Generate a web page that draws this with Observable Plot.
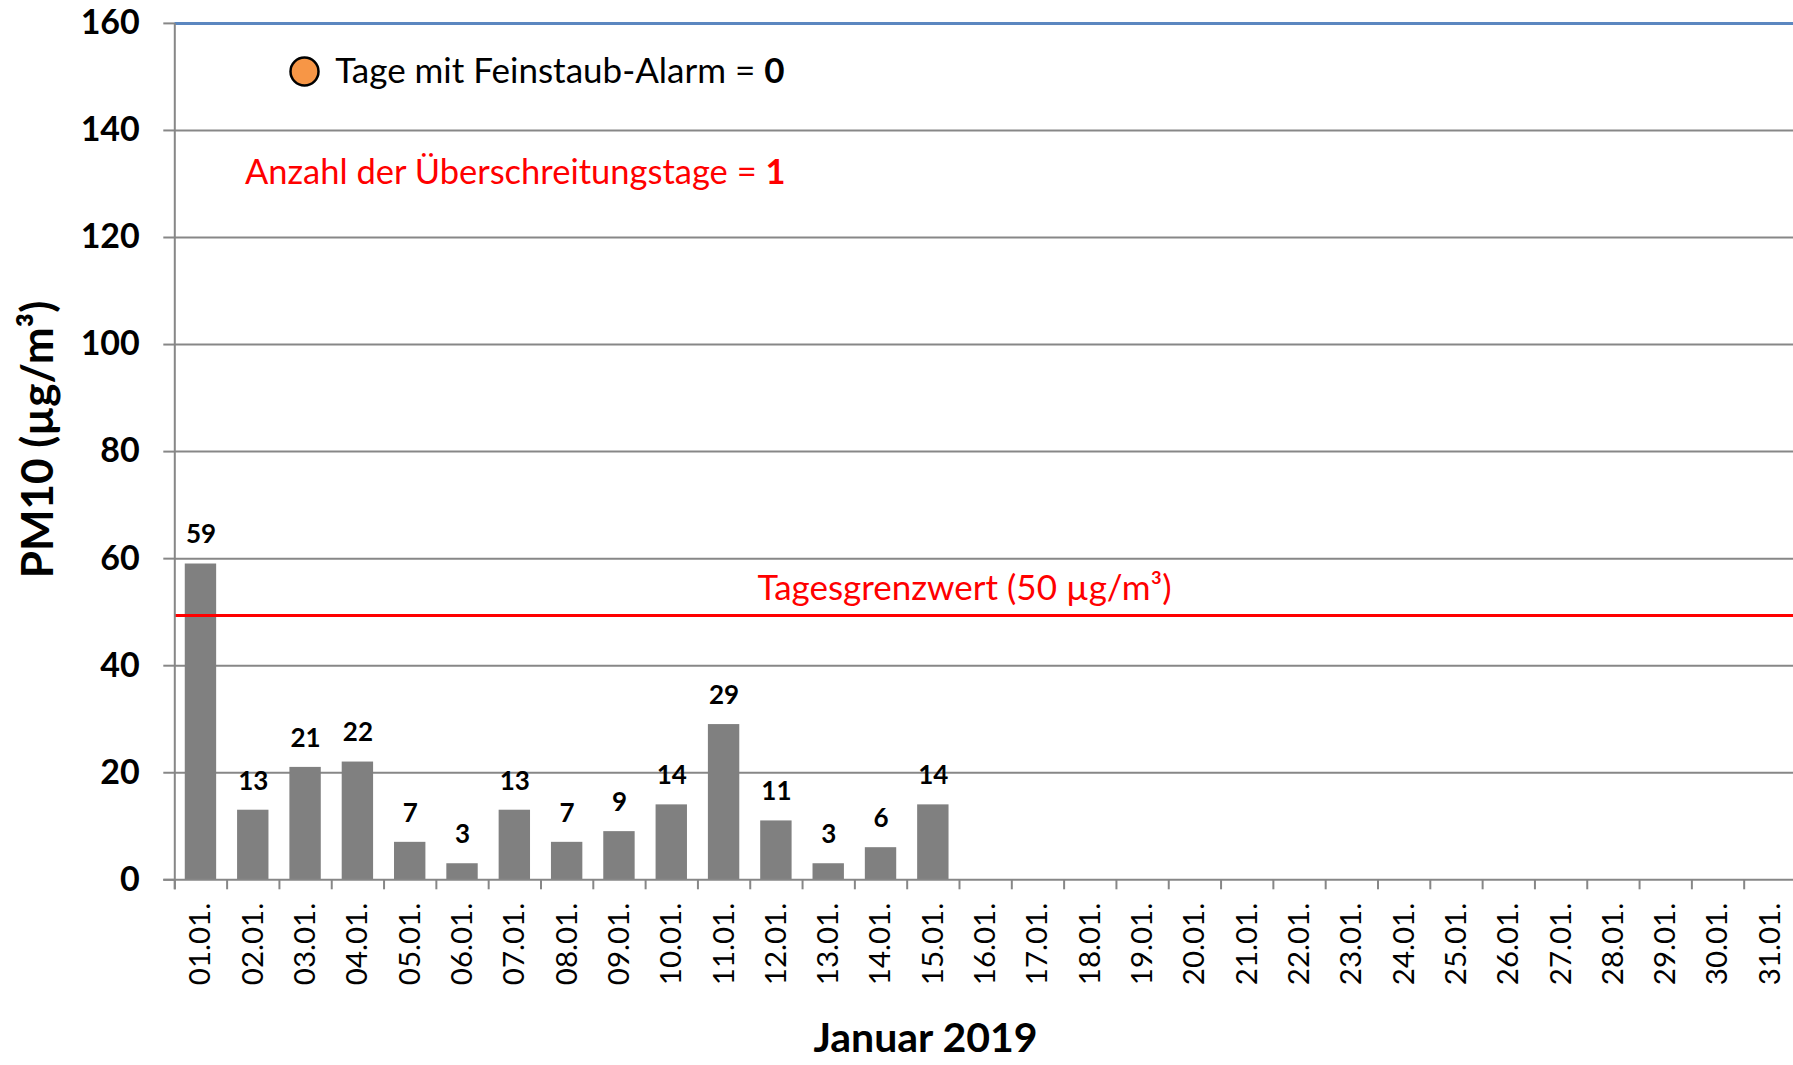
<!DOCTYPE html>
<html>
<head>
<meta charset="utf-8">
<script src="https://cdn.jsdelivr.net/npm/d3@7"></script>
<script src="https://cdn.jsdelivr.net/npm/@observablehq/plot@0.6"></script>
<style>
  html, body { margin: 0; padding: 0; background: #fff; overflow: hidden; }
  #chart { width: 1793px; height: 1065px; overflow: hidden; }
  #chart svg { max-width: none !important; }
</style>
</head>
<body>
<div id="chart"></div>
<script>
const days = ["01.01.","02.01.","03.01.","04.01.","05.01.","06.01.","07.01.","08.01.","09.01.","10.01.",
  "11.01.","12.01.","13.01.","14.01.","15.01.","16.01.","17.01.","18.01.","19.01.","20.01.",
  "21.01.","22.01.","23.01.","24.01.","25.01.","26.01.","27.01.","28.01.","29.01.","30.01.","31.01."];
const pm10 = [59, 13, 21, 22, 7, 3, 13, 7, 9, 14, 29, 11, 3, 6, 14];
const yTicks = [0, 20, 40, 60, 80, 100, 120, 140, 160];
const limitLineLevel = 49.4; // drawn level of the red limit line
const limitLabel = "Tagesgrenzwert (50 µg/m³)";
const alarmText = "Tage mit Feinstaub-Alarm = 0";
const exceedText = "Anzahl der Überschreitungstage = 1";
const yTitle = "PM10 (µg/m³)";
const xTitle = "Januar 2019";

const data = pm10.map((v, i) => ({day: days[i], value: v}));

const W = 1796, H = 1065, ML = 174.3, MR = 0, MT = 22.9, MB = 185.7;
const step = (W - ML - MR) / days.length;
const gray = "#878787";
const font = "Lato";

const chart = Plot.plot({
  width: W, height: H,
  marginLeft: ML, marginRight: MR, marginTop: MT, marginBottom: MB,
  style: {fontFamily: font, background: "white", overflow: "visible"},
  x: {type: "band", domain: days, paddingInner: 0.4, paddingOuter: 0.2, align: 0.5, round: false, axis: null},
  y: {domain: [0, 160], axis: null},
  marks: [
    Plot.ruleY(yTicks.filter(t => t > 0 && t < 160), {stroke: gray, strokeWidth: 2}),
    Plot.ruleY([160], {stroke: "#5b87c0", strokeWidth: 3}),
    Plot.barY(data, {x: "day", y: "value", fill: "#808080"}),
    Plot.ruleY([limitLineLevel], {stroke: "#ff0000", strokeWidth: 3}),
    Plot.ruleY([0], {stroke: gray, strokeWidth: 2, insetLeft: -11}),
    Plot.ruleX(days, {x: d => d, y1: 0, y2: 0, insetBottom: -10, dx: -step / 2, stroke: gray, strokeWidth: 2}),
    Plot.ruleX([days[0]], {x: d => d, y1: 160, y2: 0, insetBottom: -10, dx: -step / 2, stroke: gray, strokeWidth: 2}),
    Plot.axisY({ticks: yTicks, tickSize: 11, tickPadding: 24, stroke: gray, strokeWidth: 2, fill: "black",
      fontSize: 34, fontWeight: "bold", fontFamily: font, tickFormat: d => String(d), label: null}),
    Plot.axisX({tickSize: 0, tickPadding: 23, tickRotate: -90, fill: "black", fontSize: 29.5,
      fontFamily: font, label: null}),
    Plot.text(data, {x: "day", y: "value", text: d => String(d.value), dy: -29, lineAnchor: "middle",
      fontSize: 26, fontWeight: "bold", fill: "black", fontFamily: font}),
    Plot.text([limitLabel], {frameAnchor: "top-left", dx: 964 - ML, dy: 588 - MT, textAnchor: "middle",
      lineAnchor: "middle", fill: "#ff0000", fontSize: 35, fontFamily: font}),
    Plot.dot([0], {frameAnchor: "top-left", dx: 304 - ML, dy: 71 - MT, r: 14, fill: "#f79646",
      stroke: "black", strokeWidth: 2.5}),
    Plot.text([alarmText], {frameAnchor: "top-left", dx: 784 - ML, dy: 71.5 - MT, textAnchor: "end",
      lineAnchor: "middle", fill: "black", fontSize: 35, fontFamily: font}),
    Plot.text([exceedText], {frameAnchor: "top-left", dx: 785 - ML, dy: 172 - MT, textAnchor: "end",
      lineAnchor: "middle", fill: "#ff0000", fontSize: 34.5, fontFamily: font}),
    Plot.text([yTitle], {frameAnchor: "left", dx: 38 - ML, dy: 439 - (MT + (H - MB)) / 2, rotate: -90,
      textAnchor: "middle", lineAnchor: "middle", fill: "black", fontSize: 44, fontWeight: "bold", fontFamily: font}),
    Plot.text([xTitle], {frameAnchor: "bottom", dx: 925 - (ML + W - MR) / 2, dy: 1038 - (H - MB),
      textAnchor: "middle", lineAnchor: "middle", fill: "black", fontSize: 41, fontWeight: "bold", fontFamily: font})
  ]
});

// make the trailing numbers bold
chart.querySelectorAll("text").forEach(t => {
  const s = t.textContent;
  if (s === alarmText || s === exceedText) {
    const head = s.slice(0, s.length - 1), tail = s.slice(-1);
    t.textContent = "";
    t.appendChild(document.createTextNode(head));
    const ts = document.createElementNS("http://www.w3.org/2000/svg", "tspan");
    ts.setAttribute("font-weight", "bold");
    ts.textContent = tail;
    t.appendChild(ts);
  }
});
chart.style.maxWidth = "none";
document.getElementById("chart").appendChild(chart);
</script>
</body>
</html>
